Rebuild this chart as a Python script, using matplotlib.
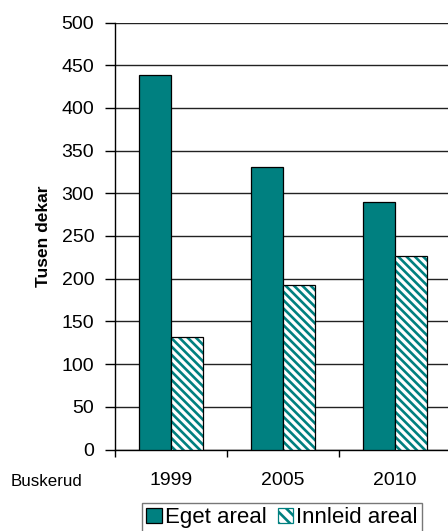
import matplotlib
matplotlib.use('Agg')
import matplotlib.pyplot as pl
import numpy as np
from matplotlib.patches import Patch

years = ['1999', '2005', '2010']
eget = [438, 331, 290]
innleid = [132, 193, 227]

teal = '#008080'

pl.rcParams['font.family'] = ['Liberation Sans', 'DejaVu Sans']
pl.rcParams['hatch.linewidth'] = 1.9

fig = pl.figure(figsize=(4.48, 5.31), dpi=100)
ax = fig.add_axes([115 / 448, 81.5 / 531, 336 / 448, 427 / 531])

x = np.arange(len(years)) + 0.5
w = 0.286

ax.bar(x - w / 2, eget, w, color=teal, edgecolor='black', lw=0.9, zorder=3)
# hatch takes the edge colour, so draw the outline separately
ax.bar(x + w / 2, innleid, w, color='white', edgecolor=teal,
       hatch='\\\\\\\\', lw=0, zorder=3)
ax.bar(x + w / 2, innleid, w, fill=False, edgecolor='black', lw=0.9, zorder=4)

ax.set_xlim(0, 3)
ax.set_ylim(0, 500)
ax.set_yticks(np.arange(0, 501, 50))
ax.yaxis.grid(True, color='#222222', lw=1.0, zorder=0)
ax.set_axisbelow(True)

ax.set_xticks(x)
ax.set_xticklabels(years)
ax.set_xticks([0, 1, 2, 3], minor=True)
ax.tick_params(axis='x', which='major', length=0, pad=16, labelsize=14)
ax.tick_params(axis='x', which='minor', length=5, width=1)
ax.tick_params(axis='y', length=7, width=1, labelsize=14, pad=8)

for s in ['top', 'right']:
    ax.spines[s].set_visible(False)
ax.spines['left'].set_linewidth(1)
ax.spines['bottom'].set_linewidth(1)

ax.set_ylabel('Tusen dekar', fontsize=12.5, fontweight='bold')
ax.yaxis.set_label_coords(-0.19, 0.5)
fig.text(11 / 448, 1 - 481 / 531, 'Buskerud', fontsize=12.2, va='center')

handles = [Patch(facecolor=teal, edgecolor='black', lw=0.9),
           Patch(facecolor='white', edgecolor=teal, hatch='\\\\\\', lw=0.9)]
leg = fig.legend(handles, ['Eget areal', 'Innleid areal'], ncol=2,
                 loc='upper left', bbox_to_anchor=(142 / 448, 1 - 503 / 531),
                 fontsize=16, frameon=True, fancybox=False,
                 edgecolor='#555555', handlelength=0.68, handleheight=0.68,
                 handletextpad=0.15, columnspacing=0.5, borderpad=0.2,
                 borderaxespad=0)
leg.get_frame().set_linewidth(1)

fig.savefig('out.png', dpi=100)
